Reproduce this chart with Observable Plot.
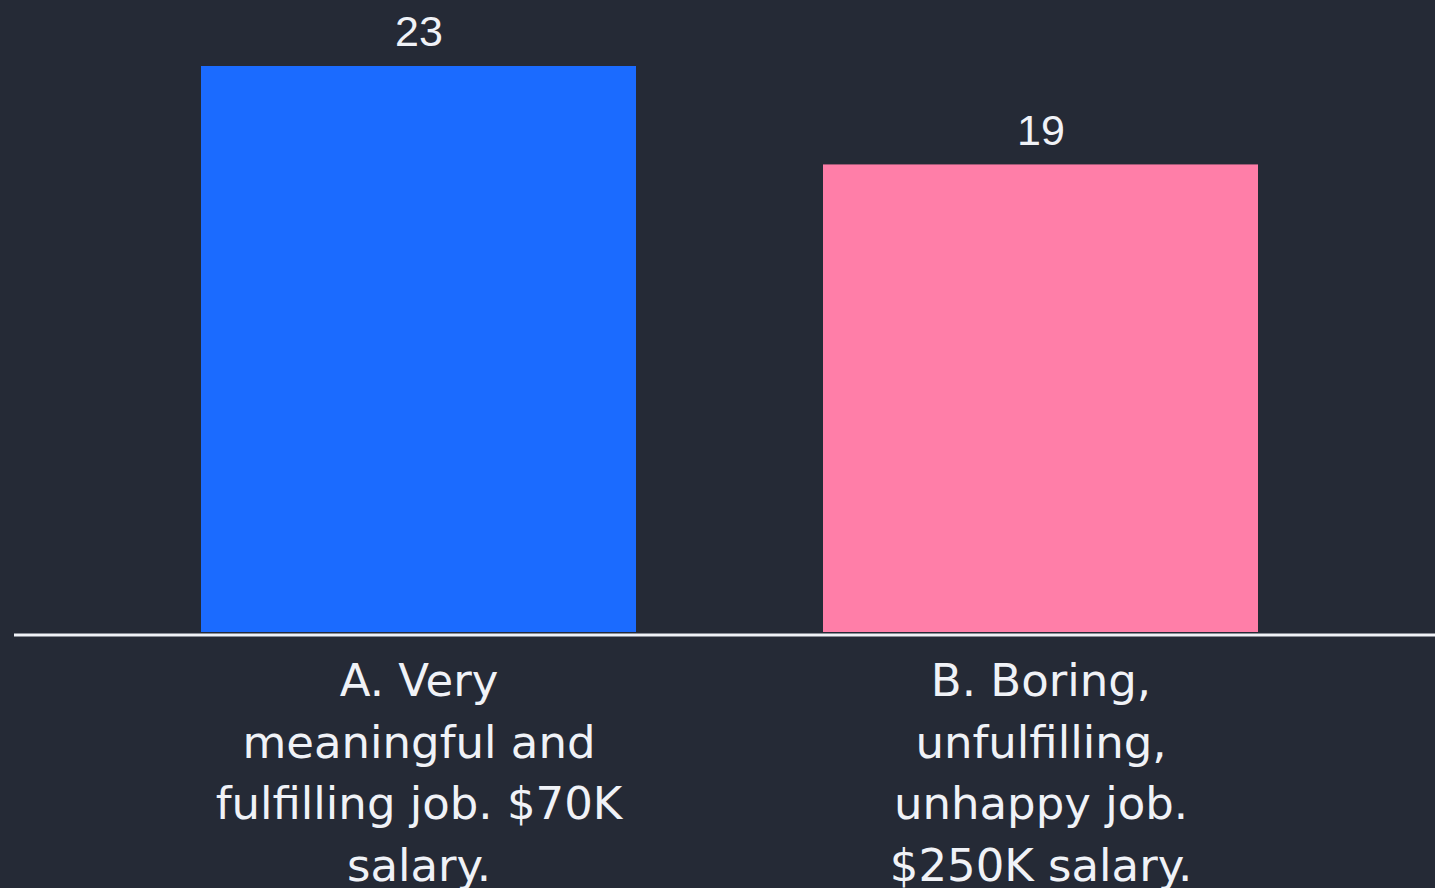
<!DOCTYPE html>
<html>
<head>
<meta charset="utf-8">
<script src="https://cdn.jsdelivr.net/npm/d3@7"></script>
<script src="https://cdn.jsdelivr.net/npm/@observablehq/plot@0.6"></script>
<style>
  html, body { margin: 0; padding: 0; background: #252a36; }
  #chart { width: 1435px; height: 888px; overflow: hidden; }
</style>
</head>
<body>
<div id="chart"></div>
<script>
const categories = [
  "A. Very\nmeaningful and\nfulfilling job. $70K\nsalary.",
  "B. Boring,\nunfulfilling,\nunhappy job.\n$250K salary."
];
const values = [23, 19];
const colors = ["#1b6bff", "#ff7ea8"];

const data = categories.map((c, i) => ({category: c, value: values[i], color: colors[i]}));

const chart = Plot.plot({
  width: 1435,
  height: 888,
  marginLeft: 14,
  marginRight: 0,
  marginTop: 66,
  marginBottom: 256,
  style: {background: "#252a36", color: "#f0f2f7", overflow: "visible"},
  x: {domain: categories, range: [14, 1445], paddingInner: 0.3, paddingOuter: 0.3, label: null},
  y: {domain: [0, d3.max(values)], axis: null},
  color: {type: "identity"},
  marks: [
    Plot.barY(data, {x: "category", y: "value", fill: "color"}),
    Plot.ruleY([0], {stroke: "#f0f2f7", strokeWidth: 3, dy: 2.5}),
    Plot.text(data, {x: "category", y: "value", text: d => String(d.value), dy: -34,
      fill: "#f0f2f7", fontSize: 43, fontFamily: "Liberation Sans, Arial, sans-serif"}),
    Plot.axisX({tickSize: 0, tickPadding: 20, fontSize: 45, lineHeight: 1.367,
      fontFamily: "DejaVu Sans, sans-serif", fill: "#f0f2f7", label: null})
  ]
});
document.getElementById("chart").appendChild(chart);
</script>
</body>
</html>
